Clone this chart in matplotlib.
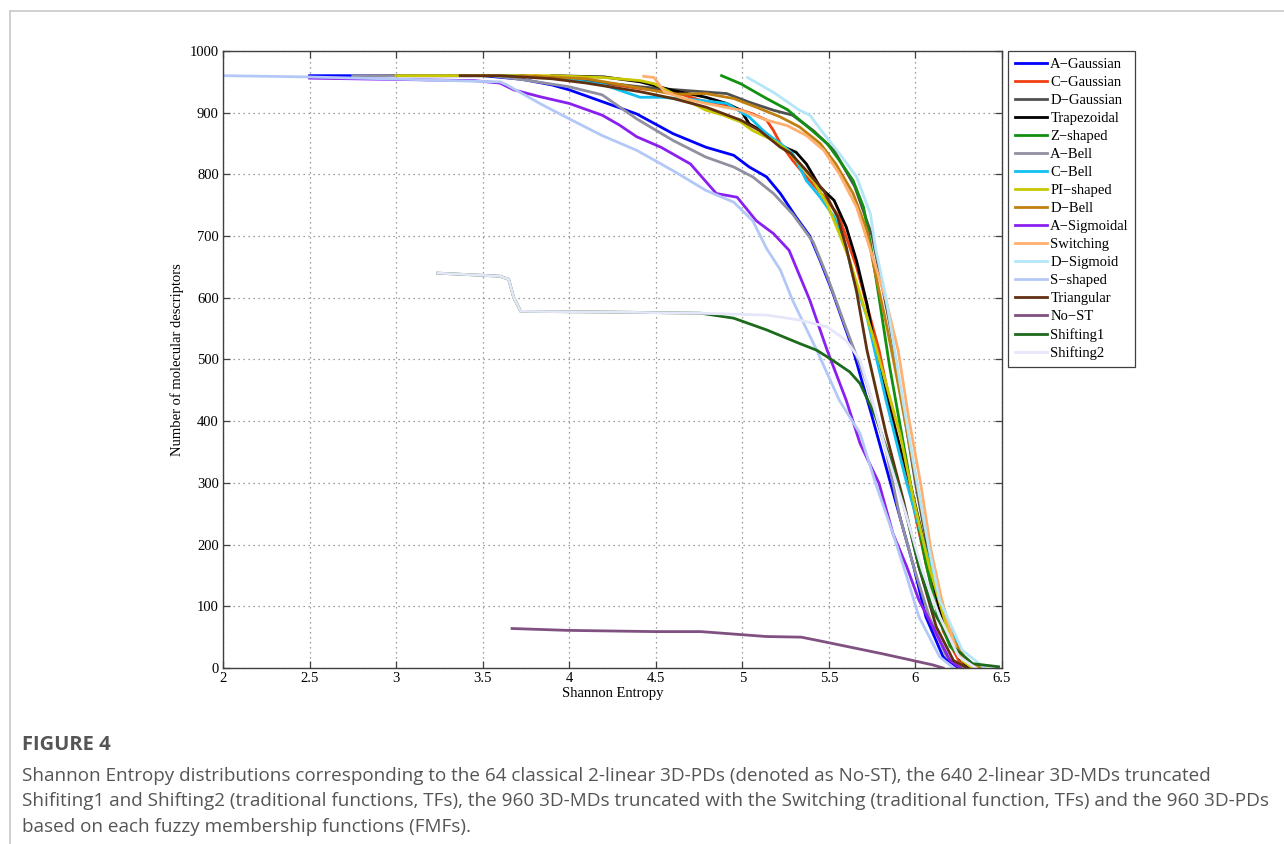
import matplotlib
matplotlib.use("Agg")
import matplotlib.pyplot as plt
from matplotlib.lines import Line2D

# x = Shannon entropy, y = number of molecular descriptors
a_gaussian_x = [2.5, 3.5, 3.73, 3.9, 4.0, 4.19, 4.39, 4.6, 4.79, 4.95, 5.04, 5.14, 5.22, 5.31, 5.39, 5.45, 5.52, 5.64, 5.75, 5.83, 5.91, 5.99, 6.06, 6.16, 6.25]
a_gaussian_y = [960, 960, 954, 945, 937, 918, 898, 866, 844, 831, 812, 796, 769, 731, 700, 660, 610, 515, 407, 326, 245, 164, 83, 18, 0]

c_gaussian_x = [3.8, 4.1, 4.41, 4.6, 4.76, 4.91, 5.06, 5.14, 5.18, 5.22, 5.29, 5.37, 5.49, 5.56, 5.66, 5.79, 5.91, 5.99, 6.06, 6.16, 6.25, 6.33]
c_gaussian_y = [960, 952, 939, 934, 920, 912, 898, 888, 871, 850, 823, 796, 758, 731, 650, 515, 353, 260, 170, 60, 12, 0]

d_gaussian_x = [2.9, 3.7, 4.0, 4.41, 4.53, 4.72, 4.91, 5.04, 5.18, 5.29, 5.41, 5.53, 5.65, 5.75, 5.85, 5.93, 6.0, 6.08, 6.17, 6.27, 6.35]
d_gaussian_y = [960, 960, 955, 942, 939, 935, 931, 917, 904, 896, 871, 839, 780, 700, 560, 420, 300, 180, 70, 15, 0]

trapezoidal_x = [3.9, 4.2, 4.41, 4.6, 4.79, 4.91, 4.99, 5.04, 5.14, 5.22, 5.31, 5.37, 5.45, 5.53, 5.6, 5.66, 5.72, 5.78, 5.87, 5.97, 6.06, 6.14, 6.25, 6.31]
trapezoidal_y = [960, 958, 950, 936, 925, 915, 904, 882, 866, 847, 836, 817, 779, 758, 715, 660, 590, 500, 400, 299, 191, 94, 18, 0]

z_shaped_x = [4.88, 4.99, 5.14, 5.26, 5.37, 5.49, 5.56, 5.64, 5.70, 5.74, 5.79, 5.85, 5.92, 5.99, 6.06, 6.13, 6.2, 6.3, 6.4]
z_shaped_y = [960, 947, 923, 905, 879, 850, 823, 790, 747, 688, 600, 490, 380, 270, 170, 85, 35, 8, 0]

a_bell_x = [2.75, 3.55, 3.72, 4.0, 4.19, 4.39, 4.6, 4.79, 4.95, 5.06, 5.18, 5.29, 5.41, 5.49, 5.6, 5.72, 5.83, 5.91, 5.99, 6.08, 6.18, 6.27]
a_bell_y = [960, 960, 954, 942, 929, 890, 855, 828, 812, 796, 769, 736, 690, 635, 550, 461, 353, 245, 164, 83, 18, 0]

c_bell_x = [3.6, 3.9, 4.2, 4.41, 4.53, 4.76, 4.91, 5.04, 5.14, 5.22, 5.29, 5.37, 5.45, 5.53, 5.6, 5.64, 5.72, 5.83, 5.95, 6.06, 6.16, 6.27, 6.35]
c_bell_y = [960, 958, 945, 925, 925, 920, 915, 893, 866, 850, 834, 790, 763, 731, 682, 634, 569, 434, 299, 191, 94, 18, 0]

pi_shaped_x = [3.0, 3.9, 4.2, 4.41, 4.49, 4.6, 4.79, 4.89, 4.99, 5.06, 5.18, 5.26, 5.33, 5.41, 5.49, 5.56, 5.62, 5.75, 5.83, 5.91, 5.99, 6.08, 6.18, 6.27, 6.33]
pi_shaped_y = [960, 960, 957, 952, 947, 931, 904, 896, 885, 871, 855, 839, 817, 790, 752, 704, 661, 542, 461, 380, 272, 164, 67, 12, 0]

d_bell_x = [3.72, 4.1, 4.41, 4.6, 4.79, 4.95, 5.08, 5.22, 5.33, 5.45, 5.54, 5.64, 5.72, 5.76, 5.83, 5.9, 5.98, 6.06, 6.14, 6.22, 6.3, 6.38]
d_bell_y = [960, 955, 940, 930, 931, 923, 909, 893, 877, 850, 817, 769, 709, 650, 560, 460, 340, 220, 120, 45, 10, 0]

a_sigmoidal_x = [2.5, 3.45, 3.6, 3.68, 3.83, 4.0, 4.19, 4.29, 4.39, 4.53, 4.7, 4.85, 4.97, 5.08, 5.18, 5.27, 5.39, 5.49, 5.6, 5.68, 5.79, 5.87, 5.95, 6.02, 6.12, 6.2, 6.26]
a_sigmoidal_y = [956, 952, 948, 937, 926, 915, 896, 880, 861, 844, 817, 769, 763, 725, 704, 677, 596, 515, 434, 364, 299, 218, 164, 110, 56, 12, 0]

switching_x = [4.43, 4.49, 4.55, 4.66, 4.79, 4.99, 5.14, 5.26, 5.37, 5.47, 5.56, 5.66, 5.76, 5.83, 5.9, 5.96, 6.03, 6.09, 6.16, 6.24, 6.34]
switching_y = [959, 957, 934, 923, 915, 904, 888, 879, 863, 839, 801, 747, 660, 596, 515, 407, 299, 191, 100, 25, 0]

d_sigmoid_x = [5.03, 5.18, 5.33, 5.39, 5.47, 5.56, 5.66, 5.74, 5.77, 5.83, 5.9, 5.96, 6.01, 6.08, 6.14, 6.27, 6.4]
d_sigmoid_y = [957, 933, 904, 896, 866, 834, 796, 736, 680, 600, 480, 380, 299, 191, 110, 29, 0]

s_shaped_x = [2.0, 2.49, 3.07, 3.45, 3.6, 3.64, 3.83, 4.0, 4.19, 4.39, 4.6, 4.79, 4.95, 5.06, 5.14, 5.22, 5.29, 5.43, 5.56, 5.68, 5.77, 5.87, 5.95, 6.02, 6.14, 6.22]
s_shaped_y = [960, 958, 954, 951, 950, 945, 915, 890, 863, 839, 806, 774, 755, 725, 680, 645, 596, 515, 434, 380, 299, 218, 148, 83, 18, 0]

triangular_x = [3.37, 3.6, 3.9, 4.1, 4.41, 4.6, 4.79, 4.99, 5.1, 5.22, 5.28, 5.37, 5.47, 5.55, 5.6, 5.66, 5.72, 5.83, 5.93, 6.02, 6.12, 6.22, 6.3]
triangular_y = [960, 960, 955, 948, 934, 923, 909, 888, 871, 844, 834, 806, 774, 731, 682, 610, 515, 380, 272, 164, 67, 12, 0]

no_st_x = [3.67, 3.99, 4.49, 4.76, 4.95, 5.14, 5.34, 5.43, 5.62, 5.81, 5.94, 6.1, 6.16]
no_st_y = [64, 61, 59, 59, 55, 51, 50, 45, 34, 23, 15, 5, 0]

shifting1_x = [3.24, 3.6, 3.65, 3.68, 3.72, 4.2, 4.5, 4.76, 4.95, 5.14, 5.33, 5.43, 5.52, 5.62, 5.68, 5.77, 5.87, 5.95, 6.02, 6.1, 6.22, 6.33, 6.48]
shifting1_y = [640, 635, 630, 600, 578, 577, 576, 575, 567, 548, 526, 515, 499, 480, 461, 407, 326, 245, 164, 94, 34, 7, 2]

shifting2_x = [3.24, 3.6, 3.65, 3.68, 3.72, 4.2, 4.76, 5.14, 5.33, 5.49, 5.6, 5.68, 5.75, 5.83, 5.95, 6.04, 6.14, 6.25, 6.35]
shifting2_y = [640, 635, 630, 600, 578, 577, 575, 572, 564, 553, 531, 499, 434, 353, 245, 158, 83, 18, 0]

labels = ["A\u2212Gaussian", "C\u2212Gaussian", "D\u2212Gaussian", "Trapezoidal", "Z\u2212shaped",
          "A\u2212Bell", "C\u2212Bell", "PI\u2212shaped", "D\u2212Bell", "A\u2212Sigmoidal",
          "Switching", "D\u2212Sigmoid", "S\u2212shaped", "Triangular", "No\u2212ST",
          "Shifting1", "Shifting2"]
colors = ["#0000ff", "#f04010", "#505050", "#000000", "#119011",
          "#9090a0", "#10c0f0", "#c8c800", "#c08010", "#8a20f0",
          "#ffb070", "#b4e6f8", "#b4c8f8", "#603010", "#805080",
          "#1c6a1c", "#e6e6fa"]
xs = [a_gaussian_x, c_gaussian_x, d_gaussian_x, trapezoidal_x, z_shaped_x,
      a_bell_x, c_bell_x, pi_shaped_x, d_bell_x, a_sigmoidal_x,
      switching_x, d_sigmoid_x, s_shaped_x, triangular_x, no_st_x,
      shifting1_x, shifting2_x]
ys = [a_gaussian_y, c_gaussian_y, d_gaussian_y, trapezoidal_y, z_shaped_y,
      a_bell_y, c_bell_y, pi_shaped_y, d_bell_y, a_sigmoidal_y,
      switching_y, d_sigmoid_y, s_shaped_y, triangular_y, no_st_y,
      shifting1_y, shifting2_y]

serif = "Liberation Serif"
W, H = 1284, 844
fig = plt.figure(figsize=(W / 100, H / 100), dpi=100)
ax = fig.add_axes([223 / W, 1 - 668 / H, (1002 - 223) / W, (668 - 51) / H])

for x, y, c, lab in zip(xs, ys, colors, labels):
    ax.plot(x, y, color=c, lw=2.0, label=lab, solid_joinstyle="round")

ax.set_xlim(2, 6.5)
ax.set_ylim(0, 1000)
ax.set_xticks([2, 2.5, 3, 3.5, 4, 4.5, 5, 5.5, 6, 6.5])
ax.set_xticklabels(["2", "2.5", "3", "3.5", "4", "4.5", "5", "5.5", "6", "6.5"])
ax.set_yticks(range(0, 1001, 100))
ax.grid(True, linestyle=(0, (1, 3)), color="#808080", lw=0.9)
ax.tick_params(direction="in", top=True, right=True, length=5, width=0.9,
               color="#404040", labelsize=10.5, pad=3)
for lab in ax.get_xticklabels() + ax.get_yticklabels():
    lab.set_fontfamily(serif)
for sp in ax.spines.values():
    sp.set_color("#404040")
    sp.set_linewidth(1.0)
ax.set_xlabel("Shannon Entropy", fontfamily=serif, fontsize=10.5, labelpad=1)
ax.set_ylabel("Number of molecular descriptors", fontfamily=serif, fontsize=10.5, labelpad=4)

leg = ax.legend(loc="upper left", bbox_to_anchor=(1008 / W, 1 - 51 / H),
                bbox_transform=fig.transFigure, borderaxespad=0,
                prop={"family": serif, "size": 10.5}, handlelength=2.2,
                handletextpad=0.25, labelspacing=0.33, borderpad=0.45,
                fancybox=False, framealpha=1)
leg.get_frame().set_edgecolor("#404040")
leg.get_frame().set_linewidth(0.9)

# page frame
fig.add_artist(Line2D([10 / W, 1], [1 - 11 / H, 1 - 11 / H], transform=fig.transFigure, color="#c8c8c8", lw=1.2))
fig.add_artist(Line2D([10 / W, 10 / W], [0, 1 - 11 / H], transform=fig.transFigure, color="#c8c8c8", lw=1.2))

cap_font = "Open Sans"
fig.text(22 / W, 1 - 745 / H, "FIGURE 4", fontfamily=cap_font, fontsize=14.5, fontweight="bold",
         color="#555555", va="center")
caption = ["Shannon Entropy distributions corresponding to the 64 classical 2-linear 3D-PDs (denoted as No-ST), the 640 2-linear 3D-MDs truncated",
           "Shifiting1 and Shifting2 (traditional functions, TFs), the 960 3D-MDs truncated with the Switching (traditional function, TFs) and the 960 3D-PDs",
           "based on each fuzzy membership functions (FMFs)."]
for i, line in enumerate(caption):
    fig.text(22 / W, 1 - (776 + 25.5 * i) / H, line, fontfamily=cap_font, fontsize=13.6,
             color="#555555", va="center")

fig.savefig("out.png", dpi=100)
